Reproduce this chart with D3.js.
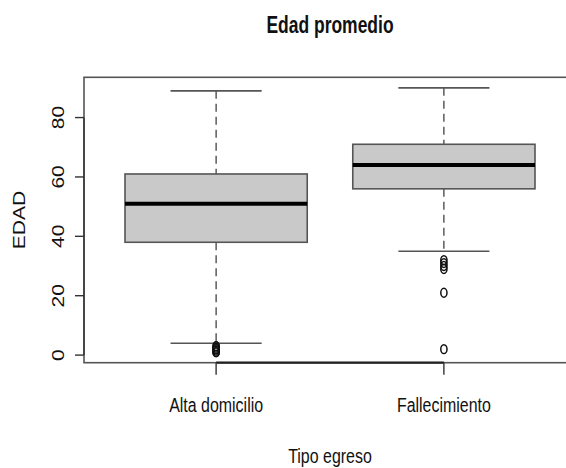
<!DOCTYPE html>
<html>
<head>
<meta charset="utf-8">
<script src="https://cdn.jsdelivr.net/npm/d3@7.9.0/dist/d3.min.js"></script>
<style>
  body { margin: 0; background: #fff; }
  svg { display: block; }
  text { font-family: "Liberation Sans", Arial, sans-serif; fill: #111; }
</style>
</head>
<body>
<svg id="chart" width="566" height="468"></svg>
<script>
// data
const categories = ['Alta domicilio', 'Fallecimiento'];
const lowerWhisker = [4, 35];
const q1 = [38, 56];
const median = [51, 64];
const q3 = [61, 71];
const upperWhisker = [89, 90];
const outliers = [[1, 1, 1.5, 2, 2, 2.5, 3, 3], [2, 21, 29, 30, 31, 32]];
const yTicks = [0, 20, 40, 60, 80];

const svg = d3.select('#chart');
const sx = 0.76; // the picture is squeezed sideways

// plot region (R style box, right side runs past the window)
const plotLeft = 84, plotRight = 576, plotTop = 77.3, plotBottom = 362.7;

let x = d3.scaleLinear().domain([0.42, 2.58]).range([plotLeft, plotRight]);
let y = d3.scaleLinear().domain([-2.56, 93.56]).range([plotBottom, plotTop]);

const boxes = categories.map((c, i) => ({
    name: c, pos: i + 1,
    lo: lowerWhisker[i], q1: q1[i], med: median[i], q3: q3[i], hi: upperWhisker[i],
    out: outliers[i]
}));

const g = svg.append('g');

boxes.forEach((b) => {
    const cx = x(b.pos);
    // dashed whiskers
    g.append('line').attr('x1', cx).attr('x2', cx).attr('y1', y(b.hi)).attr('y2', y(b.q3))
        .attr('stroke', '#333').attr('stroke-width', 1.2).attr('stroke-dasharray', '8,5');
    g.append('line').attr('x1', cx).attr('x2', cx).attr('y1', y(b.q1)).attr('y2', y(b.lo))
        .attr('stroke', '#333').attr('stroke-width', 1.2).attr('stroke-dasharray', '8,5');
    // caps
    [b.hi, b.lo].forEach((v) => {
        g.append('line').attr('x1', x(b.pos - 0.2)).attr('x2', x(b.pos + 0.2))
            .attr('y1', y(v)).attr('y2', y(v))
            .attr('stroke', '#555').attr('stroke-width', 1.6);
    });
    // box
    g.append('rect')
        .attr('x', x(b.pos - 0.4)).attr('width', x(b.pos + 0.4) - x(b.pos - 0.4))
        .attr('y', y(b.q3)).attr('height', y(b.q1) - y(b.q3))
        .attr('fill', '#c9c9c9').attr('stroke', '#555').attr('stroke-width', 1.6);
    // median
    g.append('line').attr('x1', x(b.pos - 0.4)).attr('x2', x(b.pos + 0.4))
        .attr('y1', y(b.med)).attr('y2', y(b.med))
        .attr('stroke', '#000').attr('stroke-width', 4);
    // outliers
    b.out.forEach((v) => {
        g.append('ellipse').attr('cx', cx).attr('cy', y(v))
            .attr('rx', 3.1).attr('ry', 4.4)
            .attr('fill', 'none').attr('stroke', '#111').attr('stroke-width', 1.5);
    });
});

// frame
svg.append('rect').attr('x', plotLeft).attr('y', plotTop)
    .attr('width', plotRight - plotLeft).attr('height', plotBottom - plotTop)
    .attr('fill', 'none').attr('stroke', '#555').attr('stroke-width', 1.6);

// y axis
svg.append('line').attr('x1', plotLeft).attr('x2', plotLeft)
    .attr('y1', y(yTicks[0])).attr('y2', y(yTicks[yTicks.length - 1]))
    .attr('stroke', '#333').attr('stroke-width', 1.4);
yTicks.forEach((t) => {
    svg.append('line').attr('x1', plotLeft - 9).attr('x2', plotLeft)
        .attr('y1', y(t)).attr('y2', y(t)).attr('stroke', '#333').attr('stroke-width', 1.4);
    svg.append('text')
        .attr('transform', `translate(63.5,${y(t)}) scale(${sx},1) rotate(-90)`)
        .attr('text-anchor', 'middle').style('font-size', '21px')
        .text(t);
});

// x axis
svg.append('line').attr('x1', x(1)).attr('x2', x(categories.length))
    .attr('y1', plotBottom).attr('y2', plotBottom).attr('stroke', '#222').attr('stroke-width', 2.2);
categories.forEach((c, i) => {
    svg.append('line').attr('x1', x(i + 1)).attr('x2', x(i + 1))
        .attr('y1', plotBottom).attr('y2', plotBottom + 12).attr('stroke', '#333').attr('stroke-width', 1.4);
    svg.append('text')
        .attr('transform', `translate(${x(i + 1)},411.5) scale(${sx},1)`)
        .attr('text-anchor', 'middle').style('font-size', '21px')
        .text(c);
});

// labels
svg.append('text')
    .attr('transform', `translate(${(plotLeft + plotRight) / 2},463) scale(${sx},1)`)
    .attr('text-anchor', 'middle').style('font-size', '21px')
    .text('Tipo egreso');
svg.append('text')
    .attr('transform', `translate(25,${(plotTop + plotBottom) / 2}) scale(${sx},1) rotate(-90)`)
    .attr('text-anchor', 'middle').style('font-size', '21px')
    .text('EDAD');
svg.append('text')
    .attr('transform', `translate(${(plotLeft + plotRight) / 2},33) scale(${sx},1)`)
    .attr('text-anchor', 'middle').style('font-size', '23px').style('font-weight', 'bold')
    .text('Edad promedio');
</script>
</body>
</html>
